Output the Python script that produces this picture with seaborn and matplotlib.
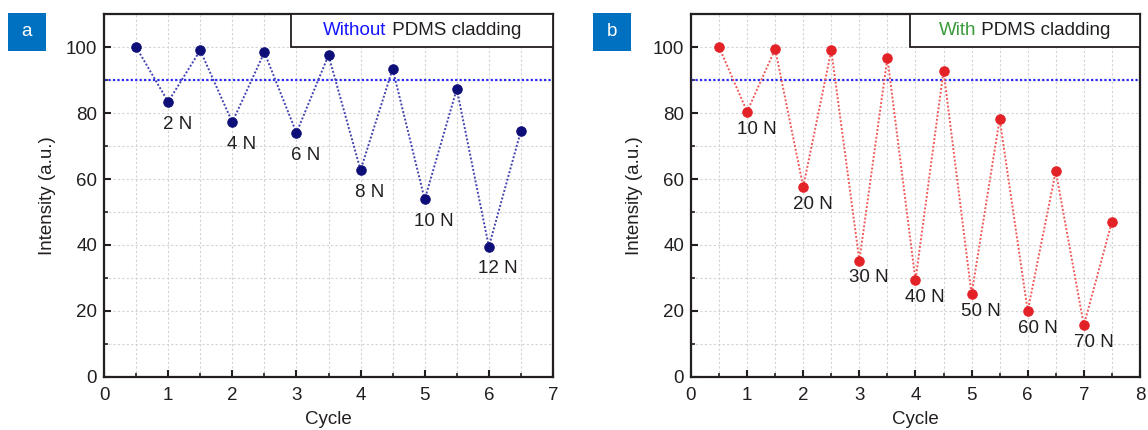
import matplotlib
matplotlib.use("Agg")
import matplotlib.pyplot as plt
from matplotlib.patches import Rectangle
from matplotlib.offsetbox import TextArea, HPacker, AnnotationBbox
from matplotlib.ticker import MultipleLocator
import seaborn as sns
import pandas as pd

# ---------------- data ----------------
cycle_a = [0.5, 1, 1.5, 2, 2.5, 3, 3.5, 4, 4.5, 5, 5.5, 6, 6.5]
intensity_a = [100, 83.4, 99.0, 77.2, 98.4, 74.0, 97.5, 62.7, 93.4, 53.8, 87.3, 39.5, 74.6]
force_cycles_a = [1, 2, 3, 4, 5, 6]
force_labels_a = ["2 N", "4 N", "6 N", "8 N", "10 N", "12 N"]

cycle_b = [0.5, 1, 1.5, 2, 2.5, 3, 3.5, 4, 4.5, 5, 5.5, 6, 6.5, 7, 7.5]
intensity_b = [100, 80.4, 99.4, 57.6, 99.0, 35.3, 96.7, 29.3, 92.8, 25.1, 78.2, 20.0, 62.4, 15.7, 47.0]
force_cycles_b = [1, 2, 3, 4, 5, 6, 7]
force_labels_b = ["10 N", "20 N", "30 N", "40 N", "50 N", "60 N", "70 N"]

threshold = 90
xmax_a, xmax_b = 7, 8
title_a = ("Without", " PDMS cladding")
title_b = ("With", " PDMS cladding")

# ---------------- style ----------------
sns.set_style("ticks")
plt.rcParams["font.family"] = ["Liberation Sans", "DejaVu Sans"]
TXT = "#231F20"
FS = 13.5
plt.rcParams.update({
    "font.size": FS,
    "text.color": TXT,
    "axes.labelcolor": TXT,
    "xtick.color": TXT,
    "ytick.color": TXT,
})

fig = plt.figure(figsize=(11.48, 4.30), dpi=100)
ax_a = fig.add_axes([0.0906, 0.1233, 0.3911, 0.8441])
ax_b = fig.add_axes([0.6019, 0.1233, 0.3911, 0.8441])

df_a = pd.DataFrame({"Cycle": cycle_a, "Intensity": intensity_a})
df_b = pd.DataFrame({"Cycle": cycle_b, "Intensity": intensity_b})


def panel(ax, df, xmax, line_color, marker_color, fcycles, flabels, offset, title, title_color, box_left, letter, letter_x):
    ax.axhline(threshold, color="#2A2AF5", lw=1.6, ls=(0, (1, 1)), zorder=2)
    sns.lineplot(data=df, x="Cycle", y="Intensity", ax=ax, color=line_color,
                 lw=1.4, ls=(0, (1, 1)), marker="o", markersize=6.8,
                 markerfacecolor=marker_color, markeredgecolor=marker_color,
                 zorder=3, sort=False)
    ax.set_xlim(0, xmax)
    ax.set_ylim(0, 110)
    ax.xaxis.set_major_locator(MultipleLocator(1))
    ax.xaxis.set_minor_locator(MultipleLocator(0.5))
    ax.set_yticks([0, 20, 40, 60, 80, 100])
    ax.yaxis.set_minor_locator(MultipleLocator(10))
    ax.grid(True, which="both", color="#D3D3D3", lw=0.8, ls=(0, (2, 2)), zorder=0)
    ax.tick_params(which="major", direction="in", length=5, width=1.5, labelsize=FS,
                   top=False, right=False)
    ax.tick_params(axis="x", which="major", pad=7)
    ax.tick_params(axis="y", which="major", pad=5)
    ax.tick_params(which="minor", direction="in", length=3, width=1.2, top=False, right=False)
    for s in ax.spines.values():
        s.set_linewidth(1.6)
        s.set_color("#231F20")
    ax.set_xlabel("Cycle", fontsize=FS, labelpad=5)
    ax.set_ylabel("Intensity (a.u.)", fontsize=FS, labelpad=7)

    lookup = dict(zip(df["Cycle"], df["Intensity"]))
    for c, lab in zip(fcycles, flabels):
        ax.annotate(lab, xy=(c, lookup[c]), xytext=offset, textcoords="offset points",
                    ha="center", va="center", fontsize=FS, color=TXT, zorder=4)

    ax.add_patch(Rectangle((box_left, 100), xmax - box_left, 10, facecolor="white",
                           edgecolor="#231F20", lw=1.3, zorder=5, clip_on=False))
    parts = HPacker(children=[TextArea(title[0], textprops=dict(color=title_color, fontsize=FS)),
                              TextArea(title[1], textprops=dict(color=TXT, fontsize=FS))],
                    align="baseline", pad=0, sep=0)
    ab = AnnotationBbox(parts, ((box_left + xmax) / 2, 105), xycoords="data",
                        frameon=False, box_alignment=(0.5, 0.5), zorder=6)
    ax.add_artist(ab)

    fig.add_artist(Rectangle((letter_x, 0.881), 0.033, 0.089, transform=fig.transFigure,
                             facecolor="#0070C0", edgecolor="none"))
    fig.text(letter_x + 0.0165, 0.926, letter, ha="center", va="center", color="white", fontsize=FS)


panel(ax_a, df_a, xmax_a, "#4343B0", "#0E0E78", force_cycles_a, force_labels_a, (6.5, -16),
      title_a, "#1515FF", 2.92, "a", 0.007)
panel(ax_b, df_b, xmax_b, "#F05A5A", "#E32228", force_cycles_b, force_labels_b, (7, -12.5),
      title_b, "#3A9A3A", 3.9, "b", 0.5165)

fig.savefig("out.png", dpi=100)
